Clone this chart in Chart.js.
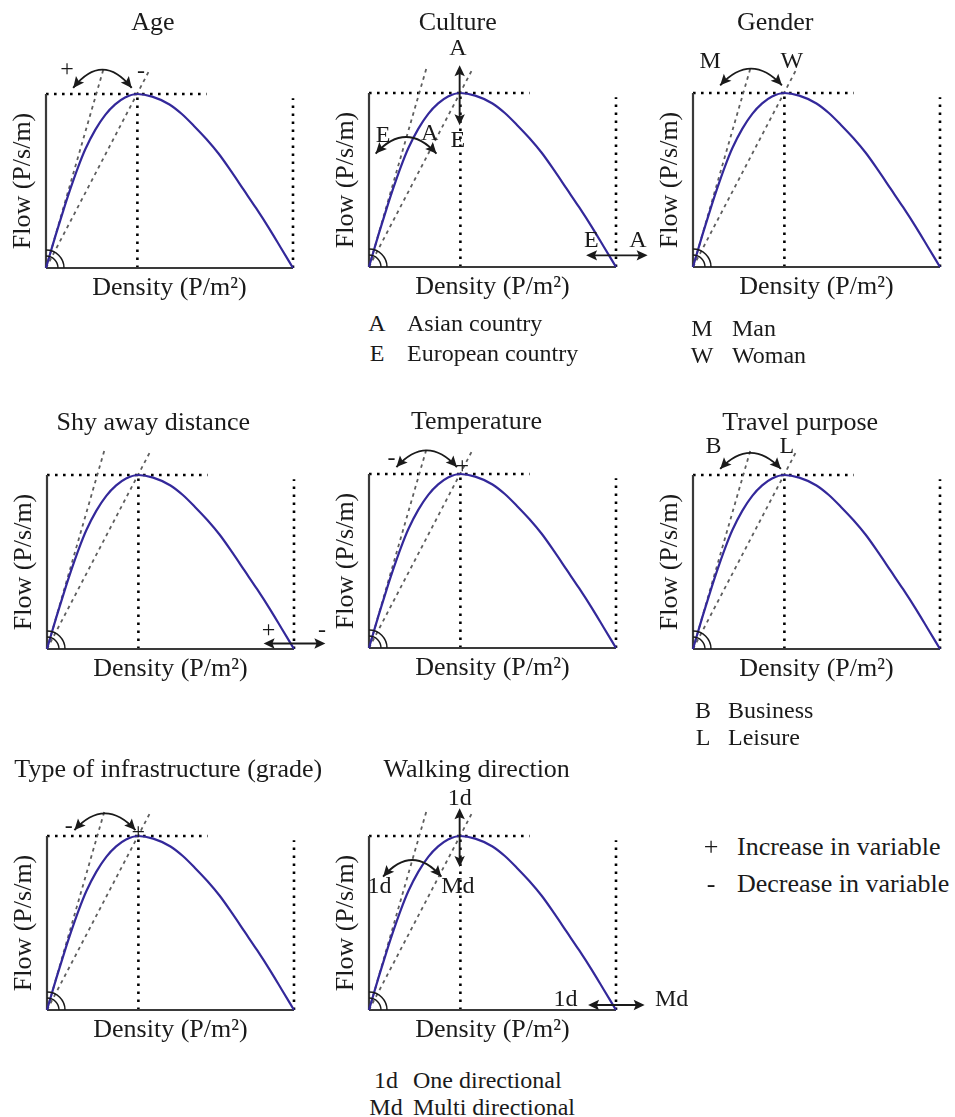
<!DOCTYPE html>
<html>
<head>
<meta charset="utf-8">
<title>Pedestrian fundamental diagram – influencing factors</title>
<script src="https://cdn.jsdelivr.net/npm/chart.js@4.4.1/dist/chart.umd.min.js"></script>
<style>
  body { margin: 0; background: #fff; }
  #page { position: relative; width: 955px; height: 1117px; overflow: hidden;
          font-family: "Liberation Serif", "Times New Roman", serif; color: #1a1a1a; }
  #page canvas { position: absolute; }
  .key { position: absolute; font-size: 24px; line-height: 28px; white-space: nowrap; }
</style>
</head>
<body>
<div id="page"></div>
<script>
// Normalised flow-density curve (density / jam density, flow / capacity)
const densityPts = [0, 0.02, 0.04, 0.07, 0.10, 0.13, 0.16, 0.20, 0.24, 0.28, 0.32, 0.37,
                    0.43, 0.50, 0.55, 0.60, 0.65, 0.70, 0.75, 0.80, 0.85, 0.90, 0.95, 1.0];
const flowPts = [0, 0.098, 0.193, 0.33, 0.46, 0.58, 0.685, 0.795, 0.88, 0.94, 0.98, 1.0,
                 0.985, 0.94, 0.885, 0.815, 0.74, 0.655, 0.555, 0.45, 0.345, 0.235, 0.118, 0];
const criticalDensity = 0.37;
const jamDensity = 1;
const capacity = 1;

// speed rays from the origin: free-flow tangent and speed at capacity
const freeFlowX = [0, 0.232];
const freeFlowY = [0, 1.14];
const capacityRayX = [0, 0.42];
const capacityRayY = [0, 1.14];
const capacityGuideX = [0, 0.65];
const jamGuideTop = 0.975;

// key texts under some panels
const cultureKey = [['A', 'Asian country'], ['E', 'European country']];
const genderKey = [['M', 'Man'], ['W', 'Woman']];
const purposeKey = [['B', 'Business'], ['L', 'Leisure']];
const directionKey = [['1d', 'One directional'], ['Md', 'Multi directional']];
const signKey = [['+', 'Increase in variable'], ['-', 'Decrease in variable']];

// swings: [x1, y1, x2, y2, apexY]; shifts: [x1, y1, x2, y2]; marks: [text, x, y]
const panels = [
  { title: 'Age', x0: 46, top: 94, titleX: 0.433, titleGap: 71,
    swings: [[0.11, 1.035, 0.347, 1.035, 1.14]], shifts: [],
    marks: [['+', 0.085, 1.14], ['-', 0.385, 1.13]] },
  { title: 'Culture', x0: 369, top: 93, titleX: 0.359, titleGap: 70,
    swings: [[0.027, 0.652, 0.273, 0.652, 0.747]],
    shifts: [[0.367, 0.814, 0.367, 1.16], [0.879, 0.067, 1.128, 0.067]],
    marks: [['A', 0.36, 1.257], ['E', 0.36, 0.728], ['E', 0.057, 0.757], ['A', 0.246, 0.767],
            ['E', 0.9, 0.153], ['A', 1.089, 0.153]] },
  { title: 'Gender', x0: 693, top: 93, titleX: 0.333, titleGap: 70,
    swings: [[0.11, 1.044, 0.36, 1.044, 1.14]], shifts: [],
    marks: [['M', 0.07, 1.178], ['W', 0.40, 1.178]] },
  { title: 'Shy away distance', x0: 47, top: 475, titleX: 0.43, titleGap: 52,
    swings: [], shifts: [[0.877, 0.032, 1.127, 0.032]],
    marks: [['+', 0.897, 0.105], ['-', 1.113, 0.105]] },
  { title: 'Temperature', x0: 369, top: 474, titleX: 0.435, titleGap: 52,
    swings: [[0.111, 1.04, 0.356, 1.04, 1.136]], shifts: [],
    marks: [['-', 0.091, 1.088], ['+', 0.378, 1.04]] },
  { title: 'Travel purpose', x0: 693, top: 475, titleX: 0.434, titleGap: 52,
    swings: [[0.11, 1.035, 0.356, 1.035, 1.127]], shifts: [],
    marks: [['B', 0.083, 1.165], ['L', 0.38, 1.165]] },
  { title: 'Type of infrastructure (grade)', x0: 47, top: 836, titleX: 0.491, titleGap: 66,
    swings: [[0.111, 1.034, 0.358, 1.034, 1.13]], shifts: [],
    marks: [['-', 0.088, 1.053], ['+', 0.37, 1.02]] },
  { title: 'Walking direction', x0: 369, top: 836, titleX: 0.436, titleGap: 66,
    swings: [[0.057, 0.766, 0.293, 0.766, 0.862]],
    shifts: [[0.367, 0.822, 0.367, 1.159], [0.887, 0.029, 1.116, 0.029]],
    marks: [['1d', 0.367, 1.216], ['1d', 0.043, 0.709], ['Md', 0.36, 0.709],
            ['1d', 0.796, 0.057], ['Md', 1.225, 0.057]] }
];

const keyBlocks = [
  { rows: cultureKey, keyX: 377, textX: 407, y: 323, gap: 30 },
  { rows: genderKey, keyX: 702, textX: 732, y: 328, gap: 27 },
  { rows: purposeKey, keyX: 703, textX: 728, y: 710, gap: 27 },
  { rows: directionKey, keyX: 386, textX: 413, y: 1080, gap: 27 },
  { rows: signKey, keyX: 711, textX: 737, y: 847, gap: 37, size: 26 }
];

const PLOT_W = 247, PLOT_H = 174;
const CANVAS_W = 370, CANVAS_H = 310;
const PAD_LEFT = 46, PAD_TOP = 95;
const CURVE_COLOR = '#33289a';
const INK = '#1a1a1a';
const SERIF = '"Liberation Serif", "Times New Roman", serif';

const page = document.getElementById('page');

function pts(xs, ys) {
  return xs.map((x, i) => ({ x: x, y: ys[i] }));
}

function segment(data, style) {
  return Object.assign({
    data: data,
    borderColor: INK,
    borderWidth: 2,
    pointRadius: 0,
    fill: false,
    tension: 0,
    clip: false
  }, style);
}

function drawHead(ctx, tx, ty, dx, dy) {
  const len = Math.hypot(dx, dy) || 1;
  const ux = dx / len, uy = dy / len;
  const L = 11, W = 5.2;
  ctx.beginPath();
  ctx.moveTo(tx, ty);
  ctx.lineTo(tx - ux * L - uy * W, ty - uy * L + ux * W);
  ctx.lineTo(tx - ux * L * 0.8, ty - uy * L * 0.8);
  ctx.lineTo(tx - ux * L + uy * W, ty - uy * L - ux * W);
  ctx.closePath();
  ctx.fill();
}

// titles, axis names, angle marks and the arrows/letters of each panel
function notesPlugin(panel) {
  return {
    id: 'notes',
    afterDatasetsDraw(chart) {
      const ctx = chart.ctx;
      const xs = chart.scales.x, ys = chart.scales.y;
      const px = v => xs.getPixelForValue(v);
      const py = v => ys.getPixelForValue(v);
      const area = chart.chartArea;
      ctx.save();
      ctx.fillStyle = INK;
      ctx.strokeStyle = INK;
      ctx.textAlign = 'center';
      ctx.textBaseline = 'middle';

      ctx.font = '26px ' + SERIF;
      ctx.fillText(panel.title, px(panel.titleX), area.top - panel.titleGap);
      ctx.fillText('Density (P/m\u00b2)', px(0.5), area.bottom + 20);
      ctx.save();
      ctx.translate(area.left - 23, (area.top + area.bottom) / 2);
      ctx.rotate(-Math.PI / 2);
      ctx.fillText('Flow (P/s/m)', 0, 0);
      ctx.restore();

      // angle marks at the origin
      ctx.lineWidth = 1.5;
      [12, 18].forEach(r => {
        ctx.beginPath();
        ctx.arc(px(0), py(0), r, -Math.PI / 2, 0);
        ctx.stroke();
      });

      ctx.lineWidth = 1.9;
      panel.swings.forEach(s => {
        const x1 = px(s[0]), y1 = py(s[1]), x2 = px(s[2]), y2 = py(s[3]);
        const cx = (x1 + x2) / 2;
        const cy = 2 * py(s[4]) - (y1 + y2) / 2;
        ctx.beginPath();
        ctx.moveTo(x1, y1);
        ctx.quadraticCurveTo(cx, cy, x2, y2);
        ctx.stroke();
        drawHead(ctx, x1, y1, x1 - cx, y1 - cy);
        drawHead(ctx, x2, y2, x2 - cx, y2 - cy);
      });

      panel.shifts.forEach(s => {
        const x1 = px(s[0]), y1 = py(s[1]), x2 = px(s[2]), y2 = py(s[3]);
        const len = Math.hypot(x2 - x1, y2 - y1);
        const ux = (x2 - x1) / len, uy = (y2 - y1) / len;
        ctx.beginPath();
        ctx.moveTo(x1 + ux * 6, y1 + uy * 6);
        ctx.lineTo(x2 - ux * 6, y2 - uy * 6);
        ctx.stroke();
        drawHead(ctx, x1, y1, -ux, -uy);
        drawHead(ctx, x2, y2, ux, uy);
      });

      ctx.font = '24px ' + SERIF;
      panel.marks.forEach(m => ctx.fillText(m[0], px(m[1]), py(m[2])));
      ctx.restore();
    }
  };
}

function buildPanel(panel) {
  const canvas = document.createElement('canvas');
  canvas.width = CANVAS_W;
  canvas.height = CANVAS_H;
  canvas.style.left = (panel.x0 - PAD_LEFT) + 'px';
  canvas.style.top = (panel.top - PAD_TOP) + 'px';
  page.appendChild(canvas);

  const dotted = { borderColor: '#000', borderWidth: 2.6, borderDash: [2.6, 5.4], borderCapStyle: 'butt' };
  const dashed = { borderColor: '#5e5e5e', borderWidth: 1.8, borderDash: [3.5, 4], borderCapStyle: 'butt' };

  new Chart(canvas, {
    type: 'line',
    data: {
      datasets: [
        segment(pts(densityPts, flowPts), { borderColor: CURVE_COLOR, borderWidth: 2.2, cubicInterpolationMode: 'monotone' }),
        segment(pts([0, jamDensity], [0, 0]), { borderColor: '#3a3a3a', borderWidth: 2.2 }),
        segment(pts([0, 0], [0, capacity]), { borderColor: '#3a3a3a', borderWidth: 2.2 }),
        segment(pts(freeFlowX, freeFlowY), dashed),
        segment(pts(capacityRayX, capacityRayY), dashed),
        segment(pts(capacityGuideX, [capacity, capacity]), dotted),
        segment(pts([criticalDensity, criticalDensity], [0, capacity]), dotted),
        segment(pts([jamDensity, jamDensity], [0, jamGuideTop]), dotted)
      ]
    },
    options: {
      responsive: false,
      animation: false,
      events: [],
      layout: {
        padding: {
          left: PAD_LEFT,
          top: PAD_TOP,
          right: CANVAS_W - PAD_LEFT - PLOT_W,
          bottom: CANVAS_H - PAD_TOP - PLOT_H
        }
      },
      scales: {
        x: { type: 'linear', min: 0, max: jamDensity, display: false },
        y: { type: 'linear', min: 0, max: capacity, display: false }
      },
      plugins: {
        legend: { display: false },
        tooltip: { enabled: false }
      }
    },
    plugins: [notesPlugin(panel)]
  });
}

function buildKey(block) {
  const size = block.size || 24;
  block.rows.forEach((row, i) => {
    const top = block.y + i * block.gap - 14;
    const k = document.createElement('div');
    k.className = 'key';
    k.style.fontSize = size + 'px';
    k.style.left = block.keyX + 'px';
    k.style.top = top + 'px';
    k.style.transform = 'translateX(-50%)';
    k.textContent = row[0];
    const t = document.createElement('div');
    t.className = 'key';
    t.style.fontSize = size + 'px';
    t.style.left = block.textX + 'px';
    t.style.top = top + 'px';
    t.textContent = row[1];
    page.appendChild(k);
    page.appendChild(t);
  });
}

document.fonts.load('26px "Liberation Serif"').finally(() => {
  panels.forEach(buildPanel);
  keyBlocks.forEach(buildKey);
});
</script>
</body>
</html>
